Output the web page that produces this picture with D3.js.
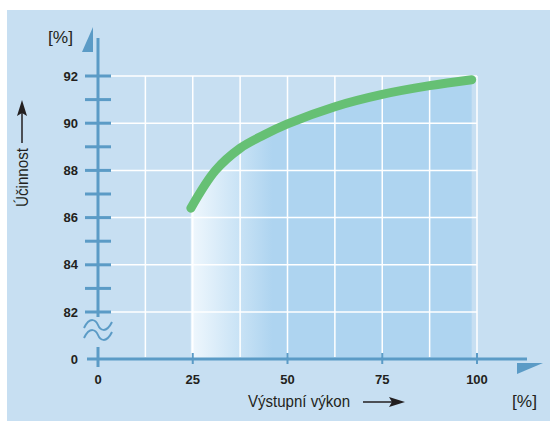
<!DOCTYPE html>
<html>
<head>
<meta charset="utf-8">
<script src="https://cdn.jsdelivr.net/npm/d3@7"></script>
<style>
  body { margin: 0; background: #fff; }
  text { font-family: "Liberation Sans", Arial, sans-serif; fill: #231f20; }
  .tick-label { font-weight: bold; font-size: 13px; }
  .title { font-size: 16px; }
</style>
</head>
<body>
<div id="chart"></div>
<script>
// output power [%] and efficiency [%]
var power = [24.5, 31, 37.5, 43.75, 50, 62.5, 75, 87.5, 98.6];
var efficiency = [86.4, 88.0, 88.94, 89.5, 89.97, 90.7, 91.22, 91.59, 91.84];

var xTicks = [0, 25, 50, 75, 100];
var xGridValues = [12.5, 25, 37.5, 50, 62.5, 75, 87.5, 100];
var yLabels = [0, 82, 84, 86, 88, 90, 92];
var yMinor = [83, 85, 87, 89, 91];
var yGridValues = [82, 84, 86, 88, 90, 92];

var width = 550,
    height = 421,
    axisColor = "#5b9bc6",
    bgColor = "#c7dff2";

var data = power.map(function(p, i) { return [p, efficiency[i]]; });

var xScale = d3.scaleLinear().domain([0, 100]).range([98, 477]);
// broken axis: 0 sits on the x axis, 82..92 is the real range
var yScale = d3.scaleLinear().domain([0, 82, 92]).range([359, 312, 76]);

var svg = d3.select("#chart").append("svg")
    .attr("width", width)
    .attr("height", height);

var defs = svg.append("defs");
var grad = defs.append("linearGradient")
    .attr("id", "fillGrad")
    .attr("gradientUnits", "userSpaceOnUse")
    .attr("x1", xScale(23)).attr("x2", xScale(46))
    .attr("y1", 0).attr("y2", 0);
grad.append("stop").attr("offset", "0%").attr("stop-color", "#f4fafe");
grad.append("stop").attr("offset", "100%").attr("stop-color", "#aed4f0");

// panel
svg.append("rect")
    .attr("x", 7).attr("y", 10)
    .attr("width", width - 7).attr("height", height - 10)
    .attr("fill", bgColor);

// area under the curve
var area = d3.area()
    .x(function(d) { return xScale(d[0]); })
    .y0(yScale(0))
    .y1(function(d) { return yScale(d[1]); })
    .curve(d3.curveCatmullRom);
svg.append("path")
    .datum(data)
    .attr("d", area)
    .attr("fill", "url(#fillGrad)");

// grid
var x0 = xScale(0) + 13, x1 = xScale(100);
svg.append("g").selectAll("line")
    .data(yGridValues)
    .enter().append("line")
    .attr("x1", x0).attr("x2", x1)
    .attr("y1", function(d) { return yScale(d); })
    .attr("y2", function(d) { return yScale(d); })
    .attr("stroke", "#fff").attr("stroke-width", 1.5);
svg.append("g").selectAll("line")
    .data(xGridValues)
    .enter().append("line")
    .attr("x1", function(d) { return xScale(d); })
    .attr("x2", function(d) { return xScale(d); })
    .attr("y1", yScale(92)).attr("y2", yScale(0) - 2)
    .attr("stroke", "#fff").attr("stroke-width", 1.5);

// x axis
var xAxisY = yScale(0);
svg.append("line")
    .attr("x1", xScale(0) - 11).attr("x2", 527)
    .attr("y1", xAxisY).attr("y2", xAxisY)
    .attr("stroke", axisColor).attr("stroke-width", 3);
svg.append("g").selectAll("line")
    .data(xTicks.slice(1))
    .enter().append("line")
    .attr("x1", function(d) { return xScale(d); })
    .attr("x2", function(d) { return xScale(d); })
    .attr("y1", xAxisY - 6).attr("y2", xAxisY + 5)
    .attr("stroke", axisColor).attr("stroke-width", 2);
svg.append("g").selectAll("text")
    .data(xTicks)
    .enter().append("text")
    .attr("class", "tick-label")
    .attr("x", function(d) { return xScale(d); })
    .attr("y", xAxisY + 25)
    .attr("text-anchor", "middle")
    .text(function(d) { return d; });
svg.append("path")
    .attr("d", "M517,363 L543,363 L517,374 Z")
    .attr("fill", axisColor);

// y axis (broken)
var yAxisX = xScale(0);
svg.append("line")
    .attr("x1", yAxisX).attr("x2", yAxisX)
    .attr("y1", 38).attr("y2", yScale(82) + 5)
    .attr("stroke", axisColor).attr("stroke-width", 3);
svg.append("line")
    .attr("x1", yAxisX).attr("x2", yAxisX)
    .attr("y1", xAxisY - 12).attr("y2", xAxisY + 8)
    .attr("stroke", axisColor).attr("stroke-width", 3);
svg.append("g").selectAll("line")
    .data(yGridValues.concat(yMinor))
    .enter().append("line")
    .attr("x1", yAxisX - 13).attr("x2", yAxisX + 13)
    .attr("y1", function(d) { return yScale(d); })
    .attr("y2", function(d) { return yScale(d); })
    .attr("stroke", axisColor).attr("stroke-width", 3);
svg.append("g").selectAll("text")
    .data(yLabels)
    .enter().append("text")
    .attr("class", "tick-label")
    .attr("x", yAxisX - 20)
    .attr("y", function(d) { return yScale(d); })
    .attr("dy", "0.35em")
    .attr("text-anchor", "end")
    .text(function(d) { return d; });
svg.append("path")
    .attr("d", "M93,27 L93,52 L82,52 Z")
    .attr("fill", axisColor);

// break mark
[325, 335].forEach(function(cy) {
    svg.append("path")
        .attr("d", "M" + (yAxisX - 14) + "," + (cy + 3) +
            " C" + (yAxisX - 8) + "," + (cy - 9) + " " + (yAxisX - 2) + "," + (cy - 5) + " " + yAxisX + "," + cy +
            " S" + (yAxisX + 8) + "," + (cy + 9) + " " + (yAxisX + 14) + "," + (cy - 3))
        .attr("fill", "none")
        .attr("stroke", axisColor)
        .attr("stroke-width", 2);
});

// efficiency curve
var line = d3.line()
    .x(function(d) { return xScale(d[0]); })
    .y(function(d) { return yScale(d[1]); })
    .curve(d3.curveCatmullRom);
svg.append("path")
    .datum(data)
    .attr("d", line)
    .attr("fill", "none")
    .attr("stroke", "#66c074")
    .attr("stroke-width", 9)
    .attr("stroke-linecap", "round");

// titles
svg.append("text").attr("class", "title")
    .attr("x", 48).attr("y", 43)
    .attr("textLength", 25).attr("lengthAdjust", "spacingAndGlyphs")
    .text("[%]");
svg.append("text").attr("class", "title")
    .attr("x", 512).attr("y", 407)
    .attr("textLength", 25).attr("lengthAdjust", "spacingAndGlyphs")
    .text("[%]");
svg.append("text").attr("class", "title")
    .attr("x", 248).attr("y", 407)
    .attr("textLength", 102).attr("lengthAdjust", "spacingAndGlyphs")
    .text("Výstupní výkon");
svg.append("text").attr("class", "title")
    .attr("transform", "translate(28,207) rotate(-90)")
    .attr("textLength", 59).attr("lengthAdjust", "spacingAndGlyphs")
    .text("Účinnost");

// label arrows
svg.append("line")
    .attr("x1", 363).attr("x2", 395).attr("y1", 402).attr("y2", 402)
    .attr("stroke", "#231f20").attr("stroke-width", 1.5);
svg.append("path")
    .attr("d", "M405,402 L389,397 L392,402 L389,407 Z")
    .attr("fill", "#231f20");
svg.append("line")
    .attr("x1", 22).attr("x2", 22).attr("y1", 143).attr("y2", 110)
    .attr("stroke", "#231f20").attr("stroke-width", 1.5);
svg.append("path")
    .attr("d", "M22,100 L17,116 L22,113 L27,116 Z")
    .attr("fill", "#231f20");
</script>
</body>
</html>
